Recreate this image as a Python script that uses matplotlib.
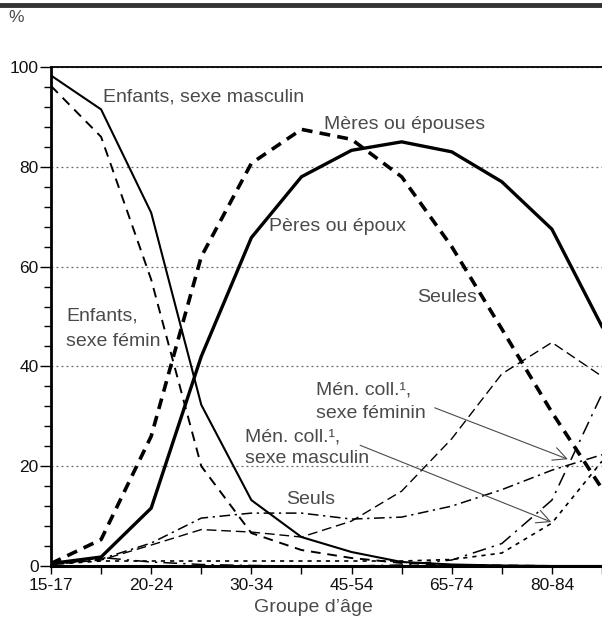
import matplotlib
matplotlib.use('Agg')
import matplotlib.pyplot as plt
from matplotlib.ticker import MultipleLocator

plt.rcParams['font.family'] = ['Liberation Sans', 'DejaVu Sans']

groupes = ['15-17', '18-19', '20-24', '25-29', '30-34', '35-44', '45-54',
           '55-64', '65-74', '75-79', '80-84', '85+']
etiquettes = ['15-17', '', '20-24', '', '30-34', '', '45-54', '', '65-74', '', '80-84', '']

enfants_m = [98.3, 91.5, 70.8, 32.3, 13.2, 5.8, 2.8, 0.8, 0.3, 0.1, 0.0, 0.0]
enfants_f = [96.2, 86.0, 57.4, 20.0, 6.6, 3.2, 1.6, 0.6, 0.2, 0.1, 0.0, 0.0]
peres = [0.5, 1.8, 11.6, 42.0, 65.8, 78.0, 83.3, 85.0, 83.0, 77.0, 67.5, 48.0]
meres = [0.5, 5.3, 26.0, 62.0, 80.7, 87.5, 85.5, 78.0, 64.0, 47.5, 30.8, 15.5]
seules = [0.3, 1.2, 4.2, 7.3, 6.8, 5.8, 9.0, 15.0, 25.5, 38.5, 44.8, 38.0]
seuls = [0.3, 1.4, 4.6, 9.6, 10.6, 10.6, 9.4, 9.8, 12.0, 15.3, 19.2, 22.3]
menc_f = [0.3, 1.7, 0.8, 0.3, 0.1, 0.0, 0.0, 0.2, 1.2, 4.5, 13.2, 34.5]
menc_m = [0.3, 1.0, 1.0, 1.0, 1.0, 1.0, 1.0, 1.0, 1.3, 2.6, 8.6, 21.0]

x = list(range(len(groupes)))
gris = '#4a4a4a'

fig = plt.figure(figsize=(6.02, 6.19), dpi=100)
ax = fig.add_axes([51 / 602, 1 - 566 / 619, 1 - 51 / 602, (566 - 67) / 619])

ax.plot(x, enfants_m, color='black', lw=1.5, solid_joinstyle='miter')
ax.plot(x, enfants_f, color='black', lw=1.4, dashes=(5, 3.5))
ax.plot(x, peres, color='black', lw=2.4, solid_joinstyle='miter')
ax.plot(x, meres, color='black', lw=2.6, dashes=(3, 2))
ax.plot(x, seules, color='black', lw=1.0, dashes=(7, 3.5))
ax.plot(x, seuls, color='black', lw=1.1, dashes=(7, 3, 1.5, 3))
ax.plot(x, menc_f, color='black', lw=1.1, dashes=(9, 4, 1.5, 4))
ax.plot(x, menc_m, color='black', lw=1.2, dashes=(2.5, 3))

ax.set_xlim(0, 10.8)
ax.set_ylim(0, 100)
ax.set_xticks(x)
ax.set_xticklabels(etiquettes)
ax.set_yticks([0, 20, 40, 60, 80, 100])
ax.yaxis.set_minor_locator(MultipleLocator(4))
ax.tick_params(axis='y', which='major', length=8, width=1, labelsize=12.5, pad=1)
ax.tick_params(axis='y', which='minor', length=5, width=1)
ax.tick_params(axis='x', length=6, width=1, labelsize=12.5, pad=3)
for t in ax.get_xticklabels() + ax.get_yticklabels():
    t.set_color('#111111')

for v in [20, 40, 60, 80, 100]:
    ax.axhline(v, color='#666666', lw=0.9, ls=(0, (1.5, 2.5)), zorder=0)

ax.spines['right'].set_visible(False)
ax.spines['left'].set_linewidth(2)
ax.spines['bottom'].set_linewidth(2.2)
ax.spines['top'].set_linewidth(1.3)

ax.set_xlabel('Groupe d’âge', fontsize=14, color=gris)
ax.xaxis.set_label_coords(0.476, -0.066)

fs = 14
ax.text(1.03, 94.0, 'Enfants, sexe masculin', fontsize=fs, color=gris, va='center')
ax.text(5.45, 88.4, 'Mères ou épouses', fontsize=fs, color=gris, va='center')
ax.text(4.35, 68.0, 'Pères ou époux', fontsize=fs, color=gris, va='center')
ax.text(7.31, 53.9, 'Seules', fontsize=fs, color=gris, va='center')
ax.text(0.3, 50.1, 'Enfants,', fontsize=fs, color=gris, va='center')
ax.text(0.3, 45.0, 'sexe fémin', fontsize=fs, color=gris, va='center')
ax.text(5.29, 35.3, 'Mén. coll.¹,', fontsize=fs, color=gris, va='center')
ax.text(5.29, 30.6, 'sexe féminin', fontsize=fs, color=gris, va='center')
ax.text(3.88, 25.9, 'Mén. coll.¹,', fontsize=fs, color=gris, va='center')
ax.text(3.88, 21.6, 'sexe masculin', fontsize=fs, color=gris, va='center')
ax.text(4.69, 13.3, 'Seuls', fontsize=fs, color=gris, va='center')

ax.annotate('', xy=(10.37, 21.2), xytext=(7.61, 31.9),
            arrowprops=dict(arrowstyle='->', color=gris, lw=0.8, mutation_scale=24))
ax.annotate('', xy=(10.04, 8.6), xytext=(6.12, 24.4),
            arrowprops=dict(arrowstyle='->', color=gris, lw=0.8, mutation_scale=24))

fig.text(8 / 602, 1 - 18 / 619, '%', fontsize=12.5, color=gris, va='center')
fig.add_artist(plt.Line2D([0, 1], [1 - 5 / 619, 1 - 5 / 619], color='#333333', lw=3.5))

fig.savefig('out.png', dpi=100)
